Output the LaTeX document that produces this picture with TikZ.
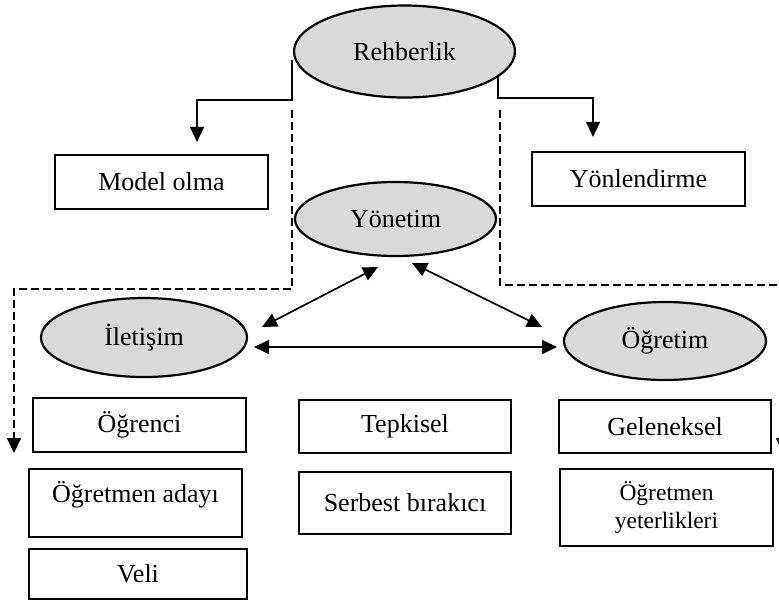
\documentclass[tikz,border=0pt]{standalone}
\usepackage{fontspec}
\setmainfont{Liberation Serif}
\usetikzlibrary{arrows.meta,shapes.geometric}
\definecolor{ellgray}{HTML}{D9D9D9}
\begin{document}
\begin{tikzpicture}[x=1pt,y=-1pt,
  ell/.style={draw,line width=2.2pt,fill=ellgray,ellipse,inner sep=0pt},
  box/.style={draw,line width=2.2pt,rectangle,inner sep=0pt},
  arr/.style={line width=1.7pt,-{Triangle[width=14pt,length=15pt]}},
  darr/.style={line width=1.7pt,{Triangle[width=14pt,length=15pt]}-{Triangle[width=14pt,length=15pt]}},
  dsh/.style={line width=1.7pt,dash pattern=on 8pt off 4pt,-{Triangle[width=14pt,length=15pt]}},
  font=\fontsize{26}{30}\selectfont]
\path[use as bounding box] (0,0) rectangle (779,603);
\clip (0,0) rectangle (779,603);

% ellipses
\node[ell,minimum width=221pt,minimum height=92pt] (reh) at (404.5,51.5) {Rehberlik};
\node[ell,minimum width=201pt,minimum height=74pt] (yon) at (395.5,219) {Yönetim};
\node[ell,minimum width=206pt,minimum height=79pt] (ilt) at (144,337.5) {İletişim};
\node[ell,minimum width=202pt,minimum height=78pt] (ogr) at (665,341) {Öğretim};

% boxes
\node[box,minimum width=213pt,minimum height=54pt] (model) at (161.5,182) {Model olma};
\node[box,minimum width=213pt,minimum height=54pt] (yonl) at (638.5,179) {Yönlendirme};
\node[box,minimum width=213pt,minimum height=54pt] (ogrenci) at (139.5,425) {Öğrenci};
\node[box,minimum width=213pt,minimum height=68pt,text depth=23pt] (aday) at (135.5,503) {Öğretmen adayı};
\node[box,minimum width=218pt,minimum height=50pt] (veli) at (138,574) {Veli};
\node[box,minimum width=212pt,minimum height=53pt] (tepki) at (405,426.5) {Tepkisel};
\node[box,minimum width=212pt,minimum height=62pt] (serbest) at (405,503) {Serbest bırakıcı};
\node[box,minimum width=212pt,minimum height=53pt] (gelen) at (665,426.5) {Geleneksel};
\node[box,minimum width=213pt,minimum height=77pt,align=center,font=\fontsize{23.5}{28}\selectfont] (yeter) at (666.5,507.5) {Öğretmen\\yeterlikleri};

% coordinates for connector ends
\coordinate (rl) at (292,60);
\coordinate (rr) at (498,77);
\coordinate (dl) at (292,110);
\coordinate (dr) at (500,110);
\coordinate (dlend) at (14,453);
\coordinate (drend) at (783,453);
\coordinate (i1) at (262,327);
\coordinate (y1) at (378,267);
\coordinate (y2) at (412,263);
\coordinate (o1) at (542,327);
\coordinate (i2) at (254,347);
\coordinate (o2) at (557,347);

% solid connectors from Rehberlik
\draw[arr,shorten >=12pt] (rl) -- (292,100) -| ([xshift=35.5pt]model.north);
\draw[arr,shorten >=14pt] (rr) -- (498,98) -| ([xshift=-45.5pt]yonl.north);

% dashed connectors
\draw[dsh] (dl) |- (14,289) -- (dlend);
\draw[dsh] (dr) |- (783,285) -- (drend);

% double arrows
\draw[darr] (i1) -- (y1);
\draw[darr] (y2) -- (o1);
\draw[darr] (i2) -- (o2);
\end{tikzpicture}
\end{document}
